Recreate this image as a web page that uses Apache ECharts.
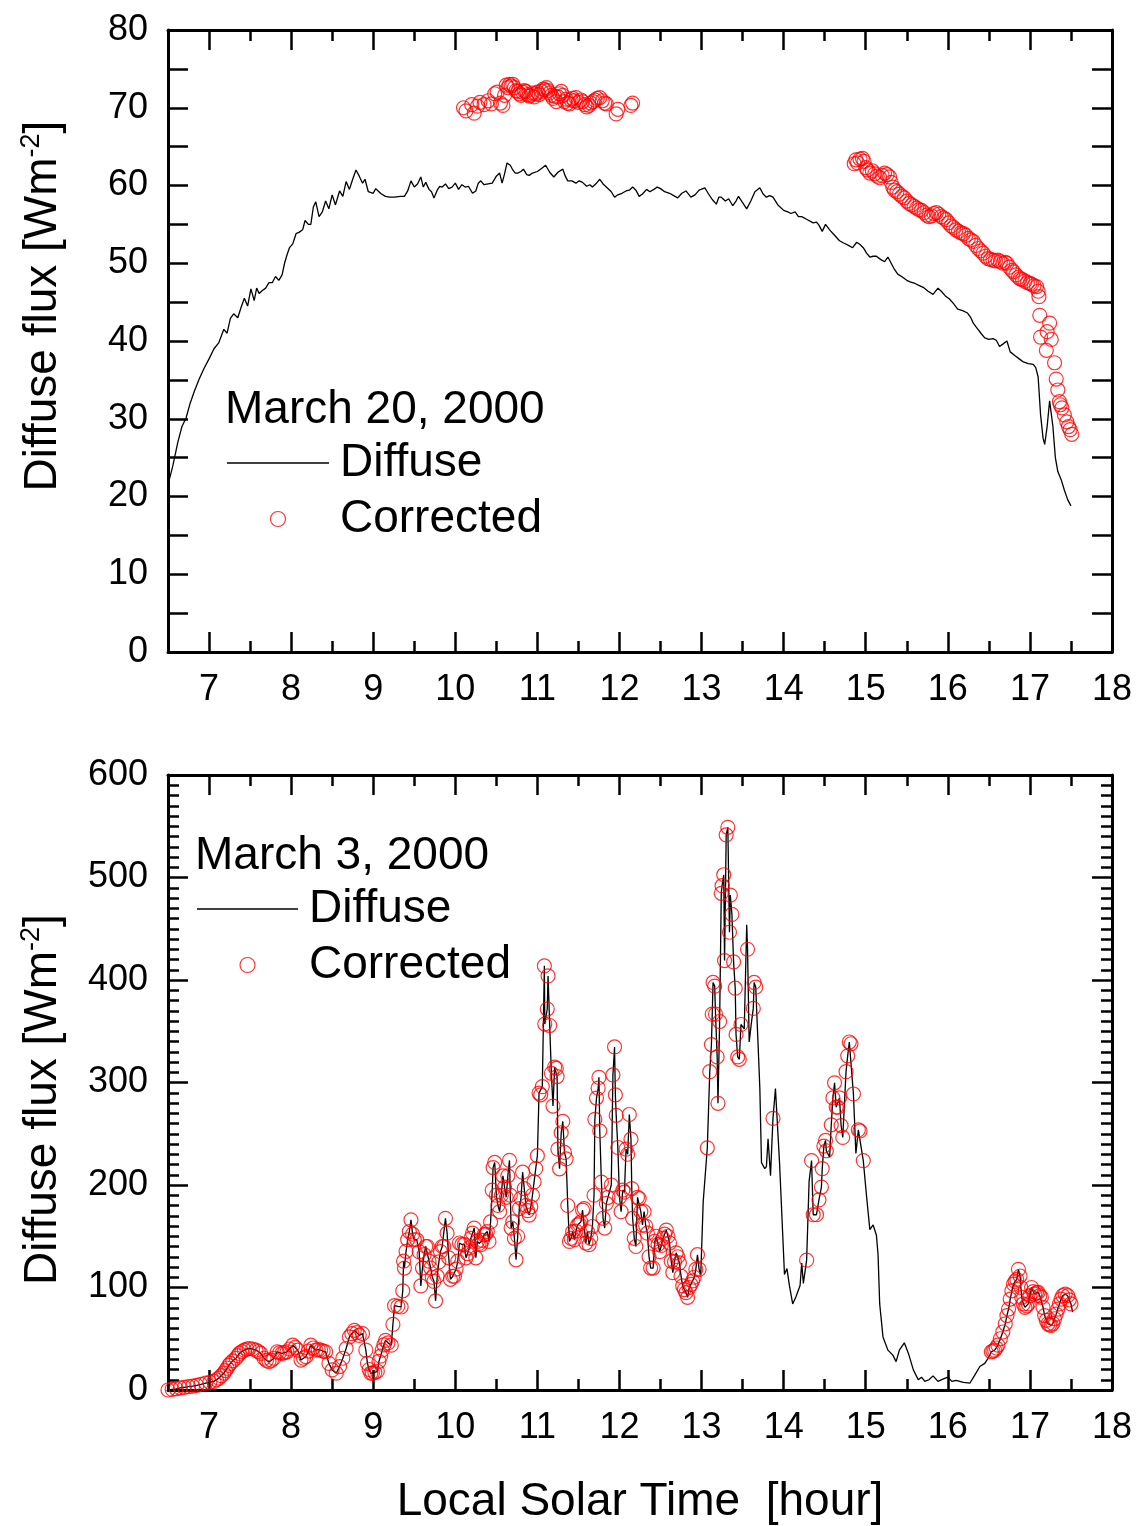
<!DOCTYPE html>
<html>
<head>
<meta charset="utf-8">
<script src="https://cdn.jsdelivr.net/npm/echarts@6/dist/echarts.min.js"></script>
<style>
html,body{margin:0;padding:0;background:#fff;}
#chart{width:1136px;height:1526px;}
</style>
</head>
<body>
<div id="chart"></div>
<script>
// ---------- axis / tick labels ----------
const xLabels = [7, 8, 9, 10, 11, 12, 13, 14, 15, 16, 17, 18];
const xRange = [6.5, 18];
const topYRange = [0, 80];
const bottomYRange = [0, 600];
const seriesNames = ['Diffuse', 'Corrected'];
const panelTitles = ['March 20, 2000', 'March 3, 2000'];
const yName = ['Diffuse flux [Wm', '-2', ']'];
const xName = 'Local Solar Time  [hour]';

// ---------- top panel (March 20, 2000) ----------
const topDiffuse = [
[6.5,21.5],[6.56,24],[6.62,27],[6.67,29],[6.72,30.1],[6.77,32],[6.82,33.5],[6.88,35.1],[6.94,36.5],[7.0,37.7],
[7.06,39],[7.12,39.8],[7.18,41.5],[7.22,41],[7.26,42.9],[7.3,43.5],[7.35,43],[7.39,44.3],[7.43,45.5],[7.47,44.5],
[7.51,46.7],[7.55,45.2],[7.58,46.8],[7.61,46.1],[7.65,46.5],[7.69,46.8],[7.73,47.5],[7.77,47.5],[7.81,48.3],[7.85,47.8],
[7.89,48.5],[7.92,50],[7.95,51.1],[7.98,52],[8.02,52.5],[8.06,53.8],[8.1,54.0],[8.14,54.3],[8.17,55.5],[8.21,55],
[8.24,55],[8.27,57.2],[8.3,57.9],[8.34,56],[8.38,56.6],[8.42,58],[8.46,57],[8.5,58.8],[8.54,57.5],[8.59,59.3],
[8.63,58.6],[8.67,60.5],[8.71,59.5],[8.75,60.8],[8.79,62.0],[8.83,61.2],[8.87,60.3],[8.9,60.8],[8.94,59.2],[9.0,59.0],
[9.03,59.6],[9.06,59.3],[9.1,58.9],[9.15,58.6],[9.2,58.5],[9.26,58.5],[9.33,58.6],[9.38,58.6],[9.42,59.3],[9.46,60.6],
[9.5,59.8],[9.54,60.2],[9.58,61.1],[9.61,59.8],[9.64,60.4],[9.68,59.5],[9.71,59.2],[9.74,58.4],[9.78,59.4],[9.81,59.9],
[9.84,59.8],[9.88,60.2],[9.92,59.6],[9.96,59.8],[10.0,60.3],[10.04,59.5],[10.08,60.1],[10.12,59.8],[10.16,59.9],[10.21,59.0],
[10.25,59.3],[10.28,60.3],[10.31,60.6],[10.35,60.1],[10.4,60.2],[10.45,60.3],[10.5,61.2],[10.54,61.6],[10.57,60.3],[10.6,61.5],
[10.63,62.9],[10.67,62.6],[10.7,62.0],[10.73,61.6],[10.76,61.6],[10.8,61.8],[10.83,62.1],[10.87,61.4],[10.9,61.3],[10.94,61.6],
[11.0,61.8],[11.05,62.2],[11.1,62.6],[11.15,61.7],[11.2,61.1],[11.25,61.7],[11.31,62.1],[11.34,61.2],[11.37,60.6],[11.42,60.6],
[11.47,60.3],[11.51,60.6],[11.55,60.4],[11.6,59.9],[11.64,60.1],[11.67,59.8],[11.72,60.3],[11.76,60.8],[11.8,60.2],[11.84,59.8],
[11.9,59.2],[11.94,58.5],[11.98,58.8],[12.03,59.0],[12.08,59.3],[12.12,59.4],[12.16,59.8],[12.2,59.4],[12.24,58.6],[12.28,58.9],
[12.33,59.5],[12.37,59.2],[12.42,59.5],[12.46,59.8],[12.5,59.6],[12.55,59.2],[12.61,59.0],[12.66,58.7],[12.71,58.4],[12.76,59.0],
[12.81,59.3],[12.87,58.5],[12.92,58.8],[12.97,59.4],[13.04,59.7],[13.08,59.0],[13.13,58.2],[13.18,57.6],[13.21,58.5],[13.24,58.5],
[13.29,58.0],[13.33,58.3],[13.38,57.4],[13.42,58.0],[13.45,58.6],[13.5,57.8],[13.55,57.0],[13.6,58.0],[13.65,59.2],[13.71,59.7],
[13.75,58.9],[13.79,58.5],[13.83,58.7],[13.87,58.5],[13.93,57.5],[14.0,56.8],[14.05,56.6],[14.09,56.4],[14.14,56.6],[14.18,56.0],
[14.22,56.0],[14.29,55.6],[14.36,55.2],[14.4,55.3],[14.43,54.9],[14.47,54.1],[14.51,55.0],[14.56,54.3],[14.62,53.6],[14.68,52.9],
[14.73,52.6],[14.79,52.3],[14.84,52.0],[14.89,52.7],[14.93,52.4],[14.97,52.0],[15.01,51.3],[15.05,50.8],[15.09,50.9],[15.13,50.9],
[15.18,50.5],[15.23,50.2],[15.27,50.8],[15.31,50.0],[15.35,49.2],[15.39,48.6],[15.45,48.2],[15.5,47.8],[15.54,47.6],[15.6,47.4],
[15.66,47.1],[15.7,46.9],[15.76,46.4],[15.82,46.0],[15.88,46.8],[15.92,46.4],[15.97,45.8],[16.02,45.4],[16.07,44.8],[16.12,44.1],
[16.18,43.9],[16.24,43.6],[16.28,43.0],[16.31,42.3],[16.36,41.6],[16.41,40.9],[16.45,40.4],[16.5,40.2],[16.55,40.3],[16.59,40.1],
[16.63,39.3],[16.67,39.6],[16.72,40.0],[16.76,38.6],[16.82,38.1],[16.87,37.7],[16.92,37.3],[16.98,37.1],[17.04,37.0],[17.07,36.6],
[17.1,35.4],[17.13,30.5],[17.16,27.5],[17.18,26.7],[17.21,29],[17.24,32.3],[17.26,32.3],[17.28,29],[17.31,25],[17.34,23.2],
[17.38,22.2],[17.42,20.8],[17.46,19.6],[17.5,18.8]
];

const topCorrected = [
[10.1,70.0],[10.13,69.6],[10.2,70.4],[10.23,69.3],[10.27,70.2],[10.3,70.7],[10.35,70.4],[10.4,70.9],[10.44,70.5],[10.48,71.8],
[10.51,72.0],[10.55,70.6],[10.58,70.3],[10.6,71.6],[10.62,72.9],[10.64,72.6],[10.66,73.0],[10.68,72.8],[10.7,73.0],[10.72,72.6],
[10.74,72.2],[10.76,72.1],[10.78,71.8],[10.8,71.6],[10.82,72.0],[10.84,72.2],[10.86,72.1],[10.88,71.7],[10.9,71.5],[10.92,71.6],
[10.94,71.9],[10.96,71.4],[10.98,71.8],[11.0,72.0],[11.02,71.7],[11.05,72.1],[11.07,72.4],[11.09,72.3],[11.11,72.6],[11.13,72.2],
[11.15,71.9],[11.17,71.6],[11.19,71.2],[11.21,71.5],[11.23,70.8],[11.25,71.4],[11.27,71.8],[11.29,72.1],[11.31,71.6],[11.33,70.8],
[11.35,71.1],[11.37,70.6],[11.39,70.5],[11.41,71.0],[11.43,71.2],[11.45,70.9],[11.47,71.3],[11.5,70.7],[11.53,71.0],[11.55,70.8],
[11.58,70.4],[11.6,70.1],[11.63,70.3],[11.65,70.6],[11.68,70.8],[11.7,71.0],[11.73,71.2],[11.76,71.3],[11.79,70.9],[11.82,70.6],
[11.84,70.5],[11.96,69.2],[11.98,69.8],[12.14,70.3],[12.16,70.6],
[14.86,62.8],[14.88,63.3],[14.9,62.9],[14.93,63.4],[14.96,63.5],[14.98,63.1],[15.0,62.3],[15.02,62.0],[15.05,61.6],[15.08,61.9],
[15.11,61.5],[15.14,61.2],[15.17,61.0],[15.2,61.3],[15.23,61.6],[15.26,61.4],[15.29,61.1],[15.31,60.4],[15.33,59.8],[15.35,59.4],
[15.38,59.2],[15.41,58.9],[15.44,58.6],[15.47,58.4],[15.5,58.0],[15.53,57.7],[15.56,57.5],[15.59,57.3],[15.62,57.1],[15.65,56.9],
[15.68,56.8],[15.71,56.5],[15.74,56.2],[15.77,56.0],[15.8,56.1],[15.83,56.4],[15.86,56.5],[15.89,56.3],[15.92,56.0],[15.95,55.8],
[15.98,55.6],[16.01,55.2],[16.04,54.8],[16.07,54.6],[16.1,54.3],[16.13,54.1],[16.16,53.9],[16.19,53.8],[16.22,53.6],[16.25,53.2],
[16.28,53.0],[16.31,52.8],[16.34,52.3],[16.37,51.9],[16.4,51.6],[16.43,51.3],[16.46,50.9],[16.49,50.6],[16.52,50.5],[16.55,50.4],
[16.58,50.3],[16.61,50.4],[16.64,50.2],[16.67,50.0],[16.7,50.1],[16.72,50.0],[16.75,49.5],[16.78,49.1],[16.8,48.9],[16.83,48.5],
[16.86,48.2],[16.88,48.0],[16.91,47.9],[16.94,47.7],[16.97,47.5],[17.0,47.4],[17.02,47.3],[17.05,47.1],[17.08,47.0],[17.1,46.4],
[17.11,45.7],[17.12,43.3],[17.13,40.5],[17.2,38.8],[17.21,41.2],[17.24,42.3],[17.26,40.2],[17.3,37.2],[17.32,35.1],[17.34,33.7],
[17.36,32.2],[17.37,31.8],[17.39,31.4],[17.42,30.5],[17.45,29.6],[17.47,29.0],[17.49,28.6],[17.51,28.0]
];

// ---------- bottom panel (March 3, 2000) ----------
const bottomCorrected = [
[6.5,0],[6.55,0.6],[6.6,1.2],[6.65,2],[6.7,2.6],[6.75,3.2],[6.8,3.8],[6.85,4.5],[6.9,5.5],[6.96,6.8],
[7.01,7.5],[7.06,8.4],[7.09,10],[7.12,11.6],[7.15,14],[7.18,16.4],[7.2,19],[7.22,21.2],[7.24,24],[7.26,26],
[7.29,28.5],[7.33,31],[7.35,33.5],[7.37,35.7],[7.4,37.5],[7.43,38.9],[7.46,40],[7.49,40.5],[7.53,40],[7.57,38.9],
[7.6,37.5],[7.63,35.7],[7.67,31],[7.7,29],[7.73,27.7],[7.76,29],[7.79,31],[7.83,37.3],[7.86,36.5],[7.89,35.7],
[7.92,36.5],[7.95,37.3],[7.98,40],[8.02,43.7],[8.05,41.5],[8.08,38.9],[8.12,29.2],[8.15,31],[8.18,32.5],[8.21,38],
[8.24,43.7],[8.27,41],[8.3,38.9],[8.33,39.5],[8.36,38.9],[8.39,38],[8.42,37.3],[8.46,26],[8.5,19.6],[8.55,16.4],
[8.59,22.9],[8.63,31],[8.67,40.5],[8.71,51.8],[8.74,55],[8.77,58.2],[8.8,56],[8.83,53.3],[8.87,55],[8.91,38.9],
[8.93,26],[8.95,20],[8.97,16.4],[8.99,16.4],[9.02,17],[9.05,18.3],[9.07,28],[9.09,33],[9.11,38.9],[9.13,44],
[9.15,48.5],[9.18,46],[9.22,43.7],[9.24,64],[9.26,82.3],[9.3,81.6],[9.34,81],[9.36,96.8],[9.37,125.7],[9.38,119],
[9.4,135.3],[9.42,146.6],[9.44,154.6],[9.46,166],[9.48,152],[9.5,146.6],[9.53,146.6],[9.56,135],[9.58,101.6],[9.6,119],
[9.62,132],[9.64,140],[9.66,140],[9.68,125.7],[9.7,119],[9.72,110],[9.74,106],[9.76,87],[9.78,111],[9.8,125],
[9.82,135],[9.84,140],[9.86,140],[9.88,167.5],[9.9,153],[9.92,129],[9.94,108],[9.97,111],[9.99,111],[10.01,118],
[10.03,125.7],[10.05,143.4],[10.08,142],[10.11,141.8],[10.13,129],[10.15,133],[10.17,138.6],[10.19,148],[10.21,153],[10.23,158],
[10.25,129],[10.27,145],[10.29,143],[10.31,141.8],[10.33,146],[10.35,151.4],[10.37,152],[10.39,154.6],[10.41,145],[10.43,164],
[10.45,195],[10.46,217],[10.48,222],[10.5,190],[10.52,180],[10.54,174],[10.56,190],[10.58,209],[10.6,198],[10.62,188],
[10.64,209],[10.66,224],[10.67,190],[10.68,158],[10.7,164],[10.72,148],[10.74,127],[10.76,150],[10.78,177],[10.8,187],
[10.82,212.5],[10.84,196.5],[10.86,180],[10.88,175],[10.9,170.7],[10.92,178.7],[10.94,190],[10.96,203],[10.98,216],[11.0,228.6],
[11.02,289.7],[11.04,288],[11.06,296],[11.085,413.8],[11.09,357],[11.12,371.7],[11.13,404],[11.15,355.6],[11.17,309],[11.19,277],
[11.21,315],[11.23,313.8],[11.24,305.8],[11.25,235],[11.27,215.8],[11.29,251],[11.31,262],[11.33,231.8],[11.35,225.4],[11.37,180],
[11.39,145],[11.41,148],[11.43,154.6],[11.45,146.6],[11.47,155],[11.49,161],[11.51,162],[11.53,164],[11.55,175.5],[11.57,177],
[11.59,143.4],[11.61,154.6],[11.63,141.8],[11.65,148],[11.67,159.5],[11.69,190],[11.7,264],[11.72,284.8],[11.74,294.5],[11.75,305],
[11.76,252.7],[11.78,202.8],[11.8,167.5],[11.82,158],[11.84,182],[11.86,188],[11.9,200],[11.92,307.4],[11.94,334.7],[11.95,288],
[11.96,268],[11.98,236.6],[12.0,188],[12.02,174],[12.04,195],[12.06,193],[12.08,235],[12.1,230],[12.12,268.8],[12.14,244.7],
[12.15,196.5],[12.16,167.5],[12.18,148],[12.2,140],[12.22,188],[12.24,186.8],[12.26,174],[12.28,161],[12.3,174],[12.32,160],
[12.34,153],[12.36,130],[12.38,119],[12.41,119],[12.43,145],[12.45,150],[12.47,142],[12.49,135],[12.51,141],[12.53,148],
[12.55,152],[12.57,156],[12.59,150],[12.61,143.4],[12.63,125.7],[12.65,114.5],[12.67,125],[12.69,133.8],[12.71,130],[12.73,124],
[12.75,111],[12.77,101.6],[12.79,98],[12.81,95],[12.83,90.4],[12.85,100],[12.87,103],[12.89,106.4],[12.91,110],[12.93,117.7],
[12.95,132],[12.97,117.7],
[13.07,236.3],[13.1,310.6],[13.12,337],[13.13,366.7],[13.14,397.6],[13.16,394],[13.17,366.7],[13.19,325],[13.2,279.7],[13.22,359.5],
[13.24,484.6],[13.25,492],[13.27,502.7],[13.28,419],[13.3,541.5],[13.32,549],[13.34,446.6],[13.35,482.8],[13.37,464],[13.39,417.7],
[13.41,392],[13.42,346.9],[13.44,325],[13.46,322.6],[13.48,356.6],[13.56,430],[13.63,372.3],[13.64,397.6],[13.66,393],[13.87,265],
[14.28,126.7],[14.34,223.8],[14.36,171],[14.4,171],[14.43,185.5],[14.46,198],[14.47,216],[14.49,238],[14.51,243.5],[14.52,233.4],
[14.58,258.7],[14.6,285],[14.62,299.7],[14.64,276],[14.66,276],[14.68,285],[14.7,258],[14.72,246.4],[14.76,310.6],[14.78,326],
[14.8,339.5],[14.82,337.8],[14.85,288.8],[14.91,253.7],[14.93,252.7],[14.97,223.8],
[16.53,37.3],[16.55,38],[16.57,38.9],[16.59,41],[16.61,43.7],[16.64,50],[16.67,56.6],[16.7,64.6],[16.72,72.6],[16.74,79],
[16.76,88.7],[16.78,96.8],[16.8,103.2],[16.82,106],[16.84,108],[16.86,117.7],[16.88,111.2],[16.89,100],[16.9,90.4],[16.92,84],
[16.94,80.7],[16.96,82],[16.98,84],[17.0,92],[17.02,100],[17.04,96],[17.06,93.6],[17.08,95],[17.1,95.2],[17.12,92],
[17.14,90.4],[17.16,80.7],[17.18,72.6],[17.2,68],[17.22,64.6],[17.24,63.5],[17.26,63],[17.28,65],[17.3,69.5],[17.32,74],
[17.34,79],[17.36,84],[17.38,88.7],[17.4,92],[17.43,93.6],[17.46,92],[17.48,88],[17.5,84]
];

// diffuse readings where no corrected circle was drawn (the diffuse line passes through the circles elsewhere)
const bottomDiffuseOnly = [
[12.99,112],[13.02,183.7],[13.23,421],[13.52,352.3],[13.55,453.8],[13.58,339.5],[13.61,360],[13.69,334],[13.71,294],[13.73,221.8],
[13.77,216],[13.79,218],[13.81,245],[13.84,209],[13.9,294],[13.95,221.8],[14.01,112.7],[14.04,118.5],[14.07,102],[14.11,84],
[14.15,91],[14.2,102],[14.22,123.8],[14.24,104],[14.31,203.5],[14.56,227],[14.88,230.8],[15.01,189],[15.05,156.5],[15.09,161],
[15.13,151],[15.15,132],[15.17,84],[15.21,51.8],[15.27,38.9],[15.33,34],[15.37,27.7],[15.41,38.9],[15.47,46],[15.52,35.7],
[15.58,19.6],[15.64,10],[15.68,12.5],[15.72,8.4],[15.77,10],[15.82,13.8],[15.88,8.4],[15.94,10.6],[16.0,12.5],[16.05,8.4],
[16.1,9.4],[16.19,7.4],[16.27,6.8],[16.33,14.8],[16.39,22.9],[16.45,26],[16.49,30.9],[17.52,76]
];

const bottomDiffuse = bottomCorrected.concat(bottomDiffuseOnly).sort((a, b) => a[0] - b[0]);

// ---------- build chart ----------
const FONT = "'Liberation Sans', Arial, Helvetica, sans-serif";
const BLACK = '#000';
const BIG = 46;
const TICKFONT = 36;
const grids = [
  { left: 168, top: 30, width: 944, height: 622 },
  { left: 168, top: 775, width: 944, height: 623 }
];

function isInt(v) { return Math.abs(v - Math.round(v)) < 1e-6; }

function xAxesFor(g, withName) {
  const minorAx = (pos, labels) => ({
    type: 'value', gridIndex: g, position: pos, min: xRange[0], max: xRange[1], interval: 0.5,
    axisLine: { show: true, onZero: false, lineStyle: { color: BLACK, width: 3 } },
    axisTick: { show: true, inside: true, length: 11, lineStyle: { color: BLACK, width: 2.5 } },
    axisLabel: labels ? {
      show: true, margin: 20, fontSize: TICKFONT, color: BLACK, fontFamily: FONT,
      formatter: v => (isInt(v) && xLabels.indexOf(Math.round(v)) >= 0) ? String(Math.round(v)) : ''
    } : { show: false },
    splitLine: { show: false },
    name: (labels && withName) ? xName : '',
    nameLocation: 'middle', nameGap: 89,
    nameTextStyle: { fontSize: BIG, lineHeight: 46, color: BLACK, fontFamily: FONT }
  });
  // mirrored negative axis so that integer hours get the long (major) ticks
  const majorAx = (pos) => ({
    type: 'value', gridIndex: g, position: pos, inverse: true,
    min: -xRange[1], max: -xRange[0], interval: 1,
    axisLine: { show: false, onZero: false },
    axisTick: { show: true, inside: true, length: 20, lineStyle: { color: BLACK, width: 2.5 } },
    axisLabel: { show: false }, splitLine: { show: false }
  });
  return [minorAx('bottom', true), majorAx('bottom'), minorAx('top', false), majorAx('top')];
}

function yAxesFor(g, range, interval, labelEvery, minorSplit, namePad) {
  const ax = (pos, labels) => ({
    type: 'value', gridIndex: g, position: pos, min: range[0], max: range[1], interval: interval,
    axisLine: { show: true, onZero: false, lineStyle: { color: BLACK, width: 3 } },
    axisTick: { show: true, inside: true, length: 20, lineStyle: { color: BLACK, width: 2.5 } },
    minorTick: { show: minorSplit > 1, splitNumber: minorSplit, length: 11, lineStyle: { color: BLACK, width: 2.5 } },
    axisLabel: labels ? {
      show: true, margin: 20, fontSize: TICKFONT, color: BLACK, fontFamily: FONT,
      formatter: v => (Math.round(v) % labelEvery === 0) ? String(Math.round(v)) : ''
    } : { show: false },
    splitLine: { show: false },
    name: labels ? '{a|' + yName[0] + '}{b|' + yName[1] + '}{a|' + yName[2] + '}' : '',
    nameLocation: 'middle', nameRotate: 90, nameGap: 100,
    nameTextStyle: {
      color: BLACK, fontFamily: FONT, padding: namePad,
      rich: {
        a: { fontSize: BIG, lineHeight: 50, color: BLACK, fontFamily: FONT },
        b: { fontSize: 27, lineHeight: 27, verticalAlign: 'top', color: BLACK, fontFamily: FONT }
      }
    }
  });
  return [ax('left', true), ax('right', false)];
}

const xAxis = xAxesFor(0, false).concat(xAxesFor(1, true));
const yAxis = yAxesFor(0, topYRange, 5, 10, 1, [0, 0, 0, 70])
  .concat(yAxesFor(1, bottomYRange, 100, 100, 10, [0, 34, 0, 0]));

const lineStyle = { color: BLACK, width: 1.3 };
const circleStyle = { color: 'rgba(0,0,0,0)', borderColor: '#ff0000', borderWidth: 1.2 };

const series = [
  { name: seriesNames[0], type: 'line', xAxisIndex: 0, yAxisIndex: 0, data: topDiffuse,
    symbol: 'none', lineStyle: lineStyle, itemStyle: { color: BLACK }, z: 3 },
  { name: seriesNames[1], type: 'scatter', xAxisIndex: 0, yAxisIndex: 0, data: topCorrected,
    symbol: 'circle', symbolSize: 14, itemStyle: circleStyle, z: 4 },
  { name: seriesNames[0], type: 'line', xAxisIndex: 4, yAxisIndex: 2, data: bottomDiffuse,
    symbol: 'none', lineStyle: lineStyle, itemStyle: { color: BLACK }, z: 3 },
  { name: seriesNames[1], type: 'scatter', xAxisIndex: 4, yAxisIndex: 2, data: bottomCorrected,
    symbol: 'circle', symbolSize: 14, itemStyle: circleStyle, z: 4 }
];

function legendAt(left, top, w) {
  return {
    left: left, top: top, orient: 'vertical', padding: 0,
    itemWidth: w, itemHeight: 15, itemGap: 10, selectedMode: false,
    data: [
      { name: seriesNames[0], icon: 'path://M0,0H100V1.3H0Z',
        itemStyle: { color: BLACK, borderWidth: 0 } },
      { name: seriesNames[1], icon: 'circle',
        itemStyle: { color: 'rgba(0,0,0,0)', borderColor: '#ff0000', borderWidth: 1.2 } }
    ],
    textStyle: { fontSize: BIG, lineHeight: 46, color: BLACK, fontFamily: FONT, padding: [0, 0, 0, 6] }
  };
}

const titleStyle = { fontSize: BIG, lineHeight: 46, fontWeight: 'normal', color: BLACK, fontFamily: FONT };

const option = {
  animation: false,
  backgroundColor: '#fff',
  grid: grids,
  xAxis: xAxis,
  yAxis: yAxis,
  title: [
    { text: panelTitles[0], left: 225, top: 387, padding: 0, textStyle: titleStyle },
    { text: panelTitles[1], left: 195, top: 833, padding: 0, textStyle: titleStyle }
  ],
  legend: [legendAt(227, 440, 102), legendAt(197, 886, 101)],
  series: series
};

const chart = echarts.init(document.getElementById('chart'), null, { renderer: 'canvas' });
chart.setOption(option);
</script>
</body>
</html>
